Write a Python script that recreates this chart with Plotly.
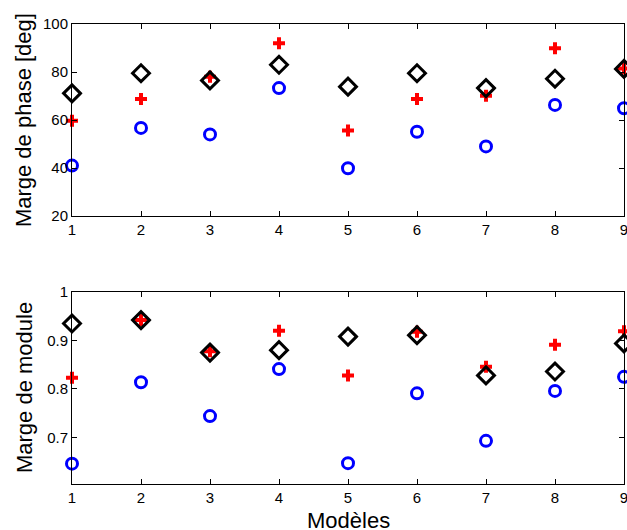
import plotly.graph_objects as go

modeles = [1, 2, 3, 4, 5, 6, 7, 8, 9]

# Marge de phase [deg]
phase_cercle = [41.0, 56.7, 54.0, 73.3, 39.9, 55.1, 49.0, 66.3, 64.9]
phase_plus = [59.7, 68.8, 78.0, 92.0, 55.6, 68.8, 70.1, 89.9, 81.5]
phase_losange = [71.1, 79.5, 76.5, 83.0, 73.9, 79.5, 73.3, 77.2, 81.3]

# Marge de module
module_cercle = [0.646, 0.814, 0.744, 0.841, 0.647, 0.791, 0.693, 0.796, 0.825]
module_plus = [0.823, 0.942, 0.878, 0.920, 0.828, 0.918, 0.846, 0.891, 0.919]
module_losange = [0.935, 0.942, 0.875, 0.880, 0.908, 0.911, 0.828, 0.836, 0.894]

x_ticks = [1, 2, 3, 4, 5, 6, 7, 8, 9]
phase_ticks = [20, 40, 60, 80, 100]
module_ticks = [0.7, 0.8, 0.9, 1]

FONT = "Liberation Sans, Arial, Helvetica, sans-serif"

fig = go.Figure()

def add_series(xa, ya, cercle, plus, losange):
    fig.add_trace(go.Scatter(x=modeles, y=cercle, mode="markers", xaxis=xa, yaxis=ya,
                             cliponaxis=False, showlegend=False,
                             marker=dict(symbol="circle-open", size=11, color="#0000ff",
                                         line=dict(width=3, color="#0000ff"))))
    fig.add_trace(go.Scatter(x=modeles, y=plus, mode="markers", xaxis=xa, yaxis=ya,
                             cliponaxis=False, showlegend=False,
                             marker=dict(symbol="cross", size=10, color="#ff0000",
                                         line=dict(width=0))))
    fig.add_trace(go.Scatter(x=modeles, y=losange, mode="markers", xaxis=xa, yaxis=ya,
                             cliponaxis=False, showlegend=False,
                             marker=dict(symbol="diamond-open", size=13, color="#000000",
                                         line=dict(width=3, color="#000000"))))

add_series("x", "y", phase_cercle, phase_plus, phase_losange)
add_series("x2", "y2", module_cercle, module_plus, module_losange)

axis_common = dict(showline=True, linecolor="black", linewidth=1, mirror="ticks",
                   ticks="inside", ticklen=5, tickcolor="black", tickwidth=1,
                   showgrid=False, zeroline=False, ticklabeloverflow="allow",
                   tickfont=dict(family=FONT, size=15, color="black"))

fig.update_layout(
    width=627, height=530,
    paper_bgcolor="white", plot_bgcolor="white",
    margin=dict(l=72, r=3, t=24, b=46),
    xaxis=dict(domain=[0, 1], anchor="y", range=[1, 9], tickvals=x_ticks, automargin=False, **axis_common),
    yaxis=dict(domain=[0.5826, 1], anchor="x", range=[20, 100], tickvals=phase_ticks, automargin=False, **axis_common),
    xaxis2=dict(domain=[0, 1], anchor="y2", range=[1, 9], tickvals=x_ticks, automargin=False, **axis_common),
    yaxis2=dict(domain=[0, 0.4174], anchor="x2", range=[0.604, 1], tickvals=module_ticks,
                ticktext=["0.7", "0.8", "0.9", "1"], automargin=False, **axis_common),
    annotations=[
        dict(text="Marge de phase [deg]", xref="paper", yref="paper", x=-0.0888, y=0.791,
             xanchor="center", yanchor="middle", textangle=-90, showarrow=False,
             font=dict(family=FONT, size=22, color="black")),
        dict(text="Marge de module", xref="paper", yref="paper", x=-0.0851, y=0.2087,
             xanchor="center", yanchor="middle", textangle=-90, showarrow=False,
             font=dict(family=FONT, size=22, color="black")),
        dict(text="Modèles", xref="paper", yref="paper", x=0.5, y=-0.08,
             xanchor="center", yanchor="middle", showarrow=False,
             font=dict(family=FONT, size=22, color="black")),
    ],
)

fig.write_html(
    "out.html",
    config={"displayModeBar": False},
    post_script="document.documentElement.style.overflow='hidden';"
                "document.body.style.margin='0';document.body.style.overflow='hidden';",
)
